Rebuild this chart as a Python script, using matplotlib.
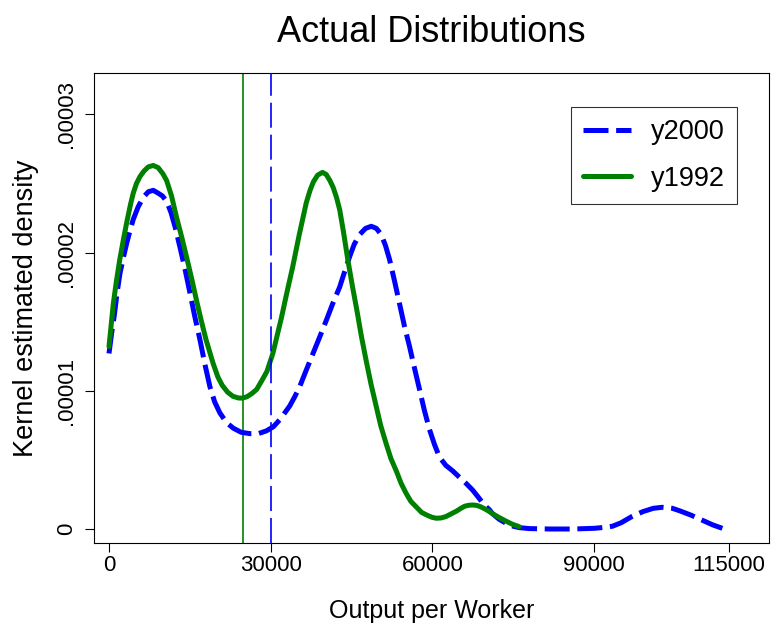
import matplotlib
matplotlib.use("Agg")
import matplotlib.pyplot as plt
from matplotlib.ticker import FixedLocator, FixedFormatter

plt.rcParams['font.family'] = ['Liberation Sans', 'DejaVu Sans']
plt.rcParams['lines.scale_dashes'] = False

# ---- data (densities in units of 1e-5) ----
x_1992 = [0, 800, 1400, 2000, 2700, 3300, 4000, 4500, 5100, 5750, 6500, 7300,
          8200, 9100, 10000, 10700, 11600, 12500, 13500, 14500, 15400, 16200,
          17100, 18000, 19300, 20200, 21000, 22000, 23000, 24000, 24750, 25600,
          26500, 27400, 28300, 29300, 30400, 31200, 32000, 33000, 34100, 35300,
          36600, 37300, 37900, 38700, 39600, 40300, 41000, 41600, 42200, 42800,
          43500, 44300, 45100, 46000, 46800, 47700, 48600, 49500, 50400, 51400,
          52300, 53300, 54200, 55100, 56000, 57000, 58000, 59000, 59900, 60700,
          61600, 62500, 63500, 64500, 65300, 66000, 66800, 67500, 68300, 69000,
          70000, 71200, 72300, 73500, 74800, 76100]
y_1992 = [1.32, 1.63, 1.80, 1.95, 2.10, 2.22, 2.35, 2.43, 2.50, 2.55, 2.59, 2.62,
          2.63, 2.615, 2.57, 2.52, 2.41, 2.26, 2.11, 1.95, 1.80, 1.66,
          1.51, 1.37, 1.20, 1.10, 1.04, 0.99, 0.96, 0.948, 0.947, 0.957,
          0.98, 1.01, 1.07, 1.14, 1.27, 1.40, 1.53, 1.71, 1.90, 2.13,
          2.36, 2.45, 2.51, 2.56, 2.58, 2.565, 2.52, 2.47, 2.40, 2.31,
          2.15, 1.95, 1.77, 1.58, 1.40, 1.22, 1.05, 0.90, 0.75, 0.62,
          0.51, 0.42, 0.33, 0.26, 0.20, 0.16, 0.12, 0.10, 0.085, 0.078,
          0.080, 0.09, 0.11, 0.13, 0.15, 0.165, 0.172, 0.174, 0.17, 0.16,
          0.14, 0.11, 0.085, 0.06, 0.035, 0.017]

x_2000 = [0, 500, 1000, 1500, 2040, 2700, 3300, 3900, 4500, 5400, 6360, 7300,
          8220, 9100, 9900, 10700, 11500, 12300, 13160, 14100, 15010, 15900,
          16870, 17800, 18720, 19600, 20570, 21800, 23040, 24500, 26130, 27700,
          29200, 30500, 31670, 32600, 33530, 34500, 35380, 36600, 37850, 39100,
          40320, 41500, 42790, 43700, 44640, 45500, 46490, 47600, 48660, 49600,
          50510, 51300, 52050, 53000, 53900, 54800, 55760, 56700, 57610, 58500,
          59460, 60400, 61310, 62500, 63780, 65000, 66250, 67500, 68720, 69700,
          70570, 71170, 72400, 73750, 75000, 76110, 78000, 82000, 86000, 90000,
          92000, 93400, 95000, 97000, 99000, 101000, 102650, 104500, 106000,
          108000, 110000, 112000, 113800]
y_2000 = [1.27, 1.42, 1.55, 1.71, 1.85, 1.97, 2.07, 2.16, 2.24, 2.33, 2.40, 2.44,
          2.45, 2.43, 2.41, 2.37, 2.29, 2.18, 2.04, 1.88, 1.71, 1.54,
          1.37, 1.19, 1.03, 0.92, 0.84, 0.77, 0.73, 0.70, 0.69, 0.69,
          0.71, 0.74, 0.79, 0.84, 0.89, 0.96, 1.03, 1.15, 1.27, 1.39,
          1.51, 1.63, 1.75, 1.86, 1.97, 2.06, 2.13, 2.175, 2.19, 2.175,
          2.13, 2.05, 1.95, 1.79, 1.63, 1.47, 1.32, 1.16, 1.01, 0.86,
          0.72, 0.61, 0.52, 0.46, 0.42, 0.375, 0.33, 0.28, 0.22, 0.17,
          0.14, 0.11, 0.07, 0.04, 0.02, 0.01, 0.003, 0.0, 0.0, 0.005,
          0.012, 0.02, 0.045, 0.09, 0.125, 0.15, 0.157, 0.15, 0.13,
          0.10, 0.065, 0.03, 0.005]

scale = 1e-5
y_1992 = [v * scale for v in y_1992]
y_2000 = [v * scale for v in y_2000]

vline_1992 = 24800
vline_2000 = 30000

x_ticks = [0, 30000, 60000, 90000, 115000]
x_tick_labels = ['0', '30000', '60000', '90000', '115000']
y_ticks = [0, 1e-5, 2e-5, 3e-5]
y_tick_labels = ['0', '.00001', '.00002', '.00003']

title = 'Actual Distributions'
x_label = 'Output per Worker'
y_label = 'Kernel estimated density'

BLUE = '#0000ff'
GREEN = '#008000'

# ---- figure ----
W, H = 771, 624
fig = plt.figure(figsize=(W / 100, H / 100), dpi=100)
L, R, T, B = 94, 769, 73, 543
ax = fig.add_axes([L / W, (H - B) / H, (R - L) / W, (B - T) / H])

ax.plot(x_2000, y_2000, color=BLUE, lw=3.6, dashes=(18, 5.5),
        dash_capstyle='butt', label='y2000', zorder=3)
ax.plot(x_1992, y_1992, color=GREEN, lw=3.6, solid_capstyle='round',
        solid_joinstyle='round', label='y1992', zorder=4)
ax.axvline(vline_1992, color=GREEN, lw=1.2, zorder=2)
ax.axvline(vline_2000, color=BLUE, lw=1.2, dashes=(18, 5), zorder=5)

ax.set_xlim(-2783, 122449)
ax.set_ylim(-1.012e-6, 3.299e-5)

ax.xaxis.set_major_locator(FixedLocator(x_ticks))
ax.xaxis.set_major_formatter(FixedFormatter(x_tick_labels))
ax.yaxis.set_major_locator(FixedLocator(y_ticks))
ax.yaxis.set_major_formatter(FixedFormatter(y_tick_labels))

ax.tick_params(axis='both', direction='out', length=6.5, width=0.8,
               colors='black', labelsize=16)
ax.tick_params(axis='x', pad=2)
ax.tick_params(axis='y', pad=6, labelrotation=90)
for lab in ax.get_yticklabels():
    lab.set_va('center')
for s in ax.spines.values():
    s.set_linewidth(0.8)
    s.set_color('black')

ax.set_xlabel(x_label, fontsize=18, va='baseline')
ax.xaxis.set_label_coords(0.5, (B - 618) / (B - T))
ax.set_ylabel(y_label, fontsize=19.5, va='baseline')
ax.yaxis.set_label_coords((33 - L) / (R - L), 0.5)

fig.text(431.5 / W, (H - 42) / H, title, fontsize=26, ha='center', va='baseline')

leg = ax.legend(loc='upper right',
                bbox_to_anchor=((737 - L) / (R - L), (B - 107) / (B - T)),
                borderaxespad=0, fontsize=19.5, frameon=True, fancybox=False,
                edgecolor='black', handlelength=1.75, handletextpad=0.75,
                borderpad=0.45, labelspacing=0.75)
leg.get_frame().set_linewidth(0.8)

fig.savefig('out.png', dpi=100)
